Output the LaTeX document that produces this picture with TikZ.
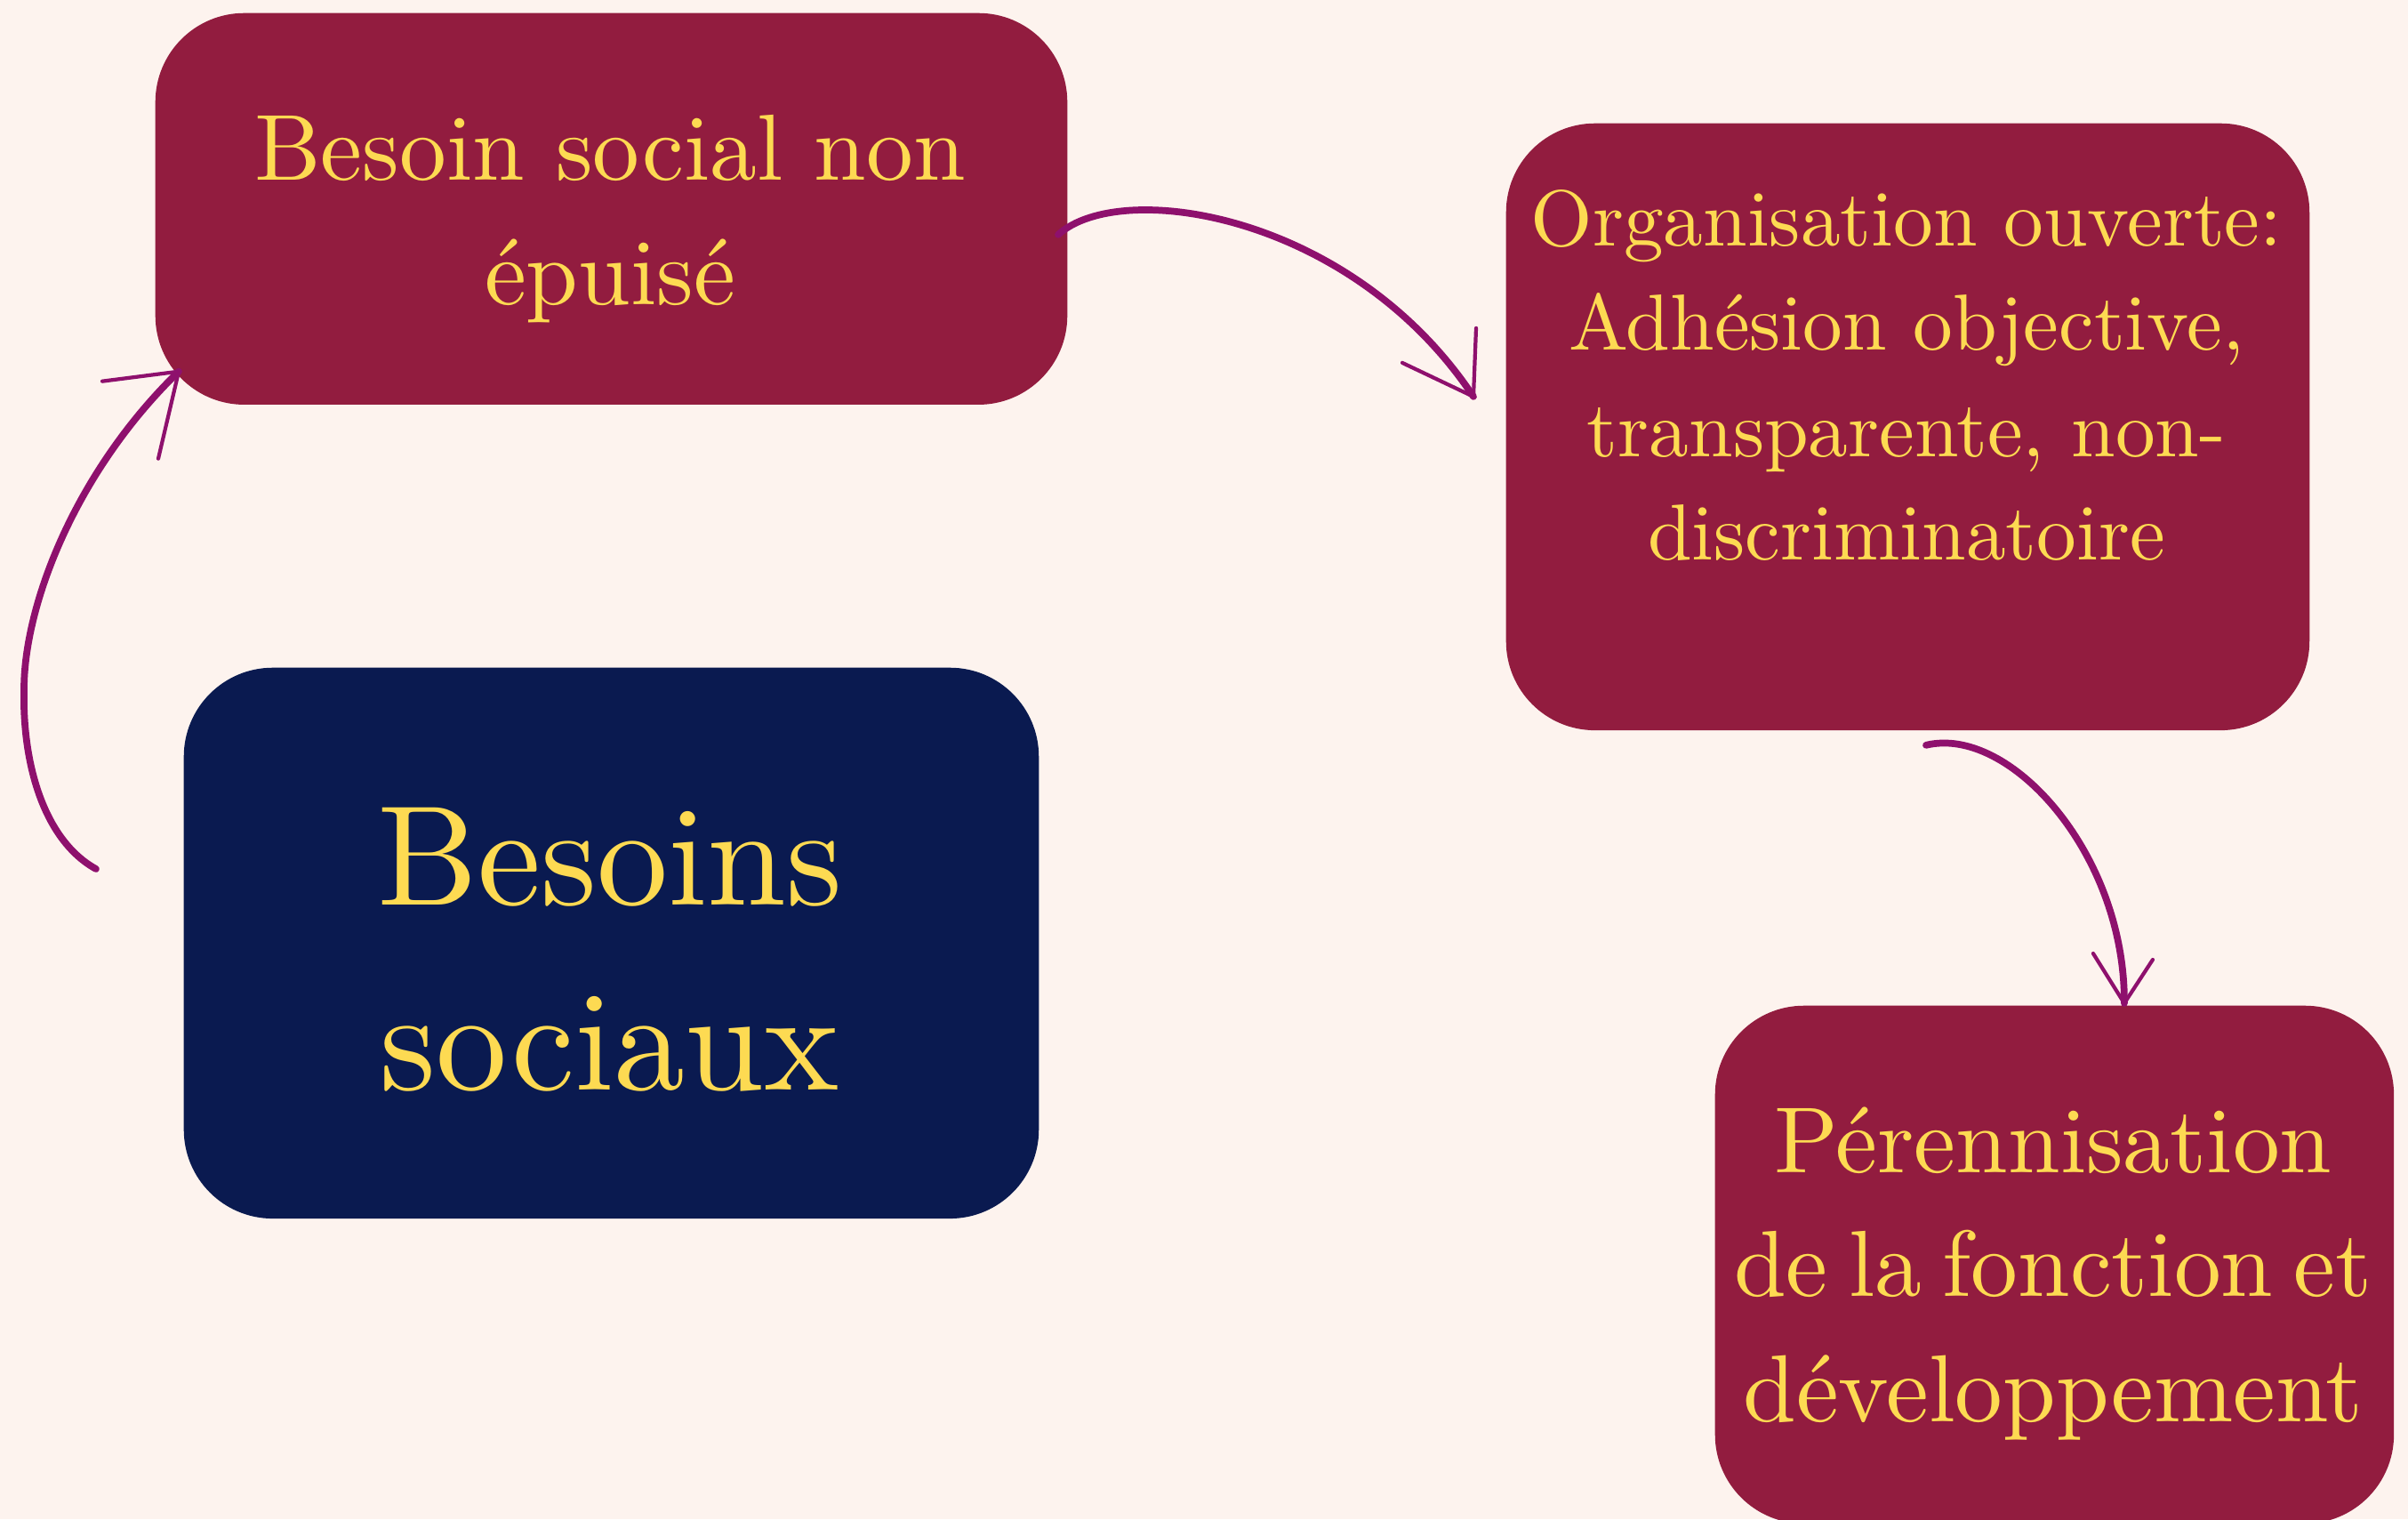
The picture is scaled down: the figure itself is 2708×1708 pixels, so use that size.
\documentclass[tikz,border=0pt]{standalone}
\usepackage{fontspec}
\setmainfont{lmroman10-regular.otf}
\usetikzlibrary{calc}
\definecolor{bgcol}{HTML}{FDF3EE}
\definecolor{boxred}{HTML}{921C3F}
\definecolor{boxnavy}{HTML}{0A1A50}
\definecolor{txtyellow}{HTML}{FDDA52}
\definecolor{arrowpurple}{HTML}{8E106D}
\tikzset{
  card/.style={draw=none, rounded corners=1cm, anchor=north west, inner sep=0pt},
  redcard/.style={card, fill=boxred},
  navycard/.style={card, fill=boxnavy},
  txt/.style={text=txtyellow, inner sep=0pt, anchor=base},
  conn/.style={draw=arrowpurple, line width=2.2pt, line cap=round, line join=round},
  headline/.style={draw=arrowpurple, line width=1.2pt, line cap=round}
}
\begin{document}
\begin{tikzpicture}[x=0.01cm, y=-0.01cm]
\fill[bgcol] (0,0) rectangle (2708,1708);
\useasboundingbox (0,0) rectangle (2708,1708);

% boxes
\node[redcard, minimum width=10.25cm, minimum height=4.40cm] (b1) at (174,14) {};
\node[redcard, minimum width=9.03cm, minimum height=6.82cm] (b2) at (1693,138) {};
\node[navycard, minimum width=9.61cm, minimum height=6.19cm] (b3) at (206,750) {};
\node[redcard, minimum width=7.63cm, minimum height=5.82cm] (b4) at (1928,1130) {};

% texts
\node[txt, font=\fontsize{30pt}{36pt}\selectfont] (t1a) at (686,202) {Besoin social non};
\node[txt, font=\fontsize{30pt}{36pt}\selectfont] (t1b) at (686,342) {épuisé};

\node[txt, font=\fontsize{25.4pt}{30pt}\selectfont] (t2a) at (2144,276) {Organisation ouverte:};
\node[txt, font=\fontsize{25.4pt}{30pt}\selectfont] (t2b) at (2144,393) {Adhésion objective,};
\node[txt, font=\fontsize{25.4pt}{30pt}\selectfont] (t2c) at (2144,513) {transparente, non-};
\node[txt, font=\fontsize{25.4pt}{30pt}\selectfont] (t2d) at (2144,629) {discriminatoire};

\node[txt, font=\fontsize{45.5pt}{54pt}\selectfont] (t3a) at (686,1017) {Besoins};
\node[txt, font=\fontsize{45.5pt}{54pt}\selectfont] (t3b) at (686,1225) {sociaux};

\node[txt, font=\fontsize{30pt}{36pt}\selectfont] (t4a) at (2309,1318) {Pérennisation};
\node[txt, font=\fontsize{30pt}{36pt}\selectfont] (t4b) at (2309,1457) {\spaceskip=0.22em plus 0.05em\relax de la fonction et};
\node[txt, font=\fontsize{30.5pt}{36pt}\selectfont] (t4c) at (2309,1598) {développement};

% connector end points
\coordinate (a1s) at (108,977);
\coordinate (a1t) at ($(b1.south west)+(27,-38)$);
\coordinate (a2s) at ($(b1.east)+(-11,29)$);
\coordinate (a2t) at ($(b2.west)+(-36,-34)$);
\coordinate (a3s) at ($(b2.south)+(20.5,16)$);
\coordinate (a3t) at ($(b4.north)+(78.5,-2)$);

% arrow 1: from free end up to box 1
\draw[conn] (a1s) .. controls (50,945) and (25,860) .. (27,775)
               .. controls (27,680) and (85,530) .. (a1t);
\draw[headline] (a1t) -- ++(-86,11);
\draw[headline] (a1t) -- ++(-23,98);

% arrow 2: box 1 to box 2
\draw[conn] (a2s) .. controls (1260,200) and (1520,240) .. (a2t);
\draw[headline] (a2t) -- ++(-80,-38);
\draw[headline] (a2t) -- ++(3,-77);

% arrow 3: box 2 to box 4
\draw[conn] (a3s) .. controls (2260,815) and (2390,960) .. (a3t);
\draw[headline] (a3t) -- ++(-35,-56);
\draw[headline] (a3t) -- ++(32,-49);
\end{tikzpicture}
\end{document}
